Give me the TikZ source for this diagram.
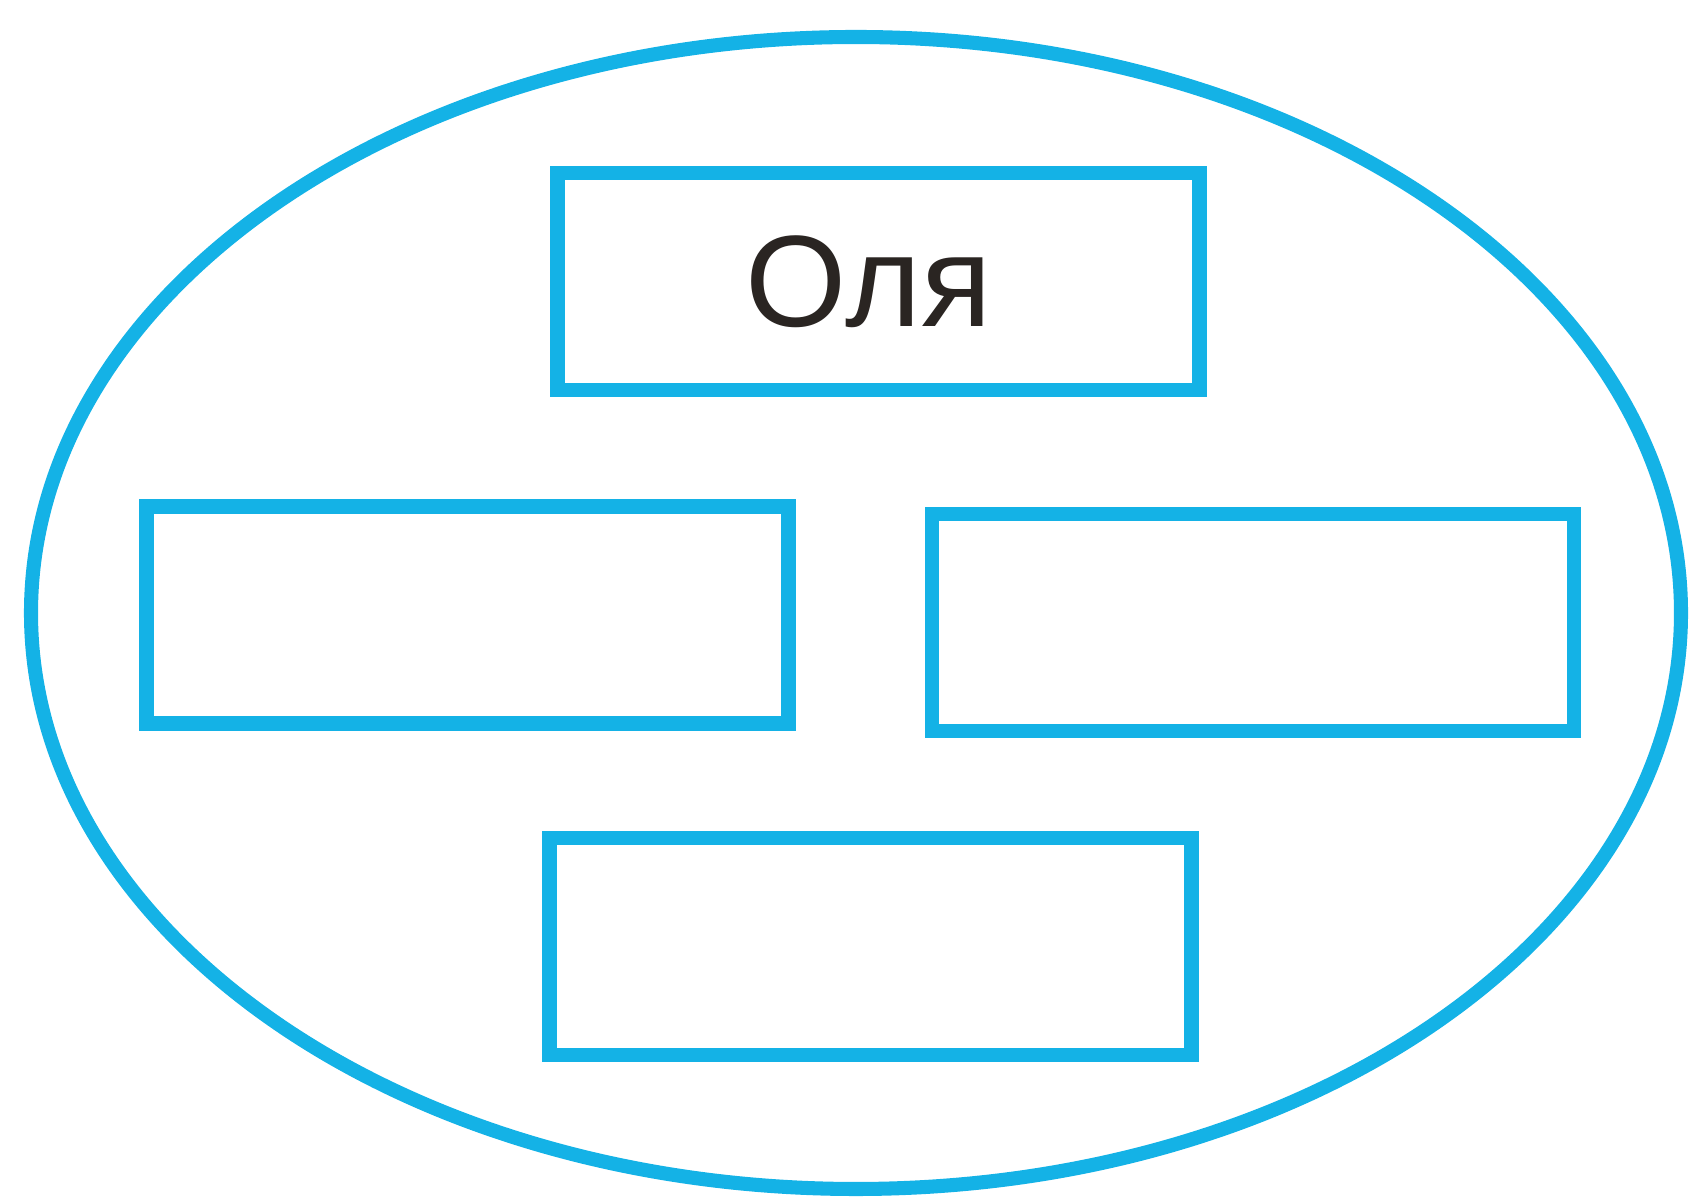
\documentclass[tikz,border=0pt]{standalone}
\usepackage{fontspec}
\setmainfont{Liberation Sans}
\usepackage{xcolor}
\usepackage{tikz}
\usetikzlibrary{positioning}
\definecolor{setline}{HTML}{14B2E6}
\definecolor{nametext}{HTML}{2A2522}

\begin{document}
\begin{tikzpicture}[
    slot/.style={draw=setline, line width=4.2pt, minimum width=6.42cm, minimum height=2.17cm, inner sep=0pt, align=center, font=\fontsize{37}{44}\selectfont\color{nametext}},
]
    \useasboundingbox (0, 0) rectangle (16.91, 11.98);
    \draw[setline, line width=4pt] (8.56, 5.85) ellipse [x radius=8.25cm, y radius=5.76cm];

    \node[slot] (s1) at (8.785, 9.165) {Оля\hspace{0.2cm}};
    \node[slot] (s2) at (4.675, 5.83) {};
    \node[slot] (s3) at (12.53, 5.755) {};
    \node[slot] (s4) at (8.705, 2.515) {};
\end{tikzpicture}
\end{document}
